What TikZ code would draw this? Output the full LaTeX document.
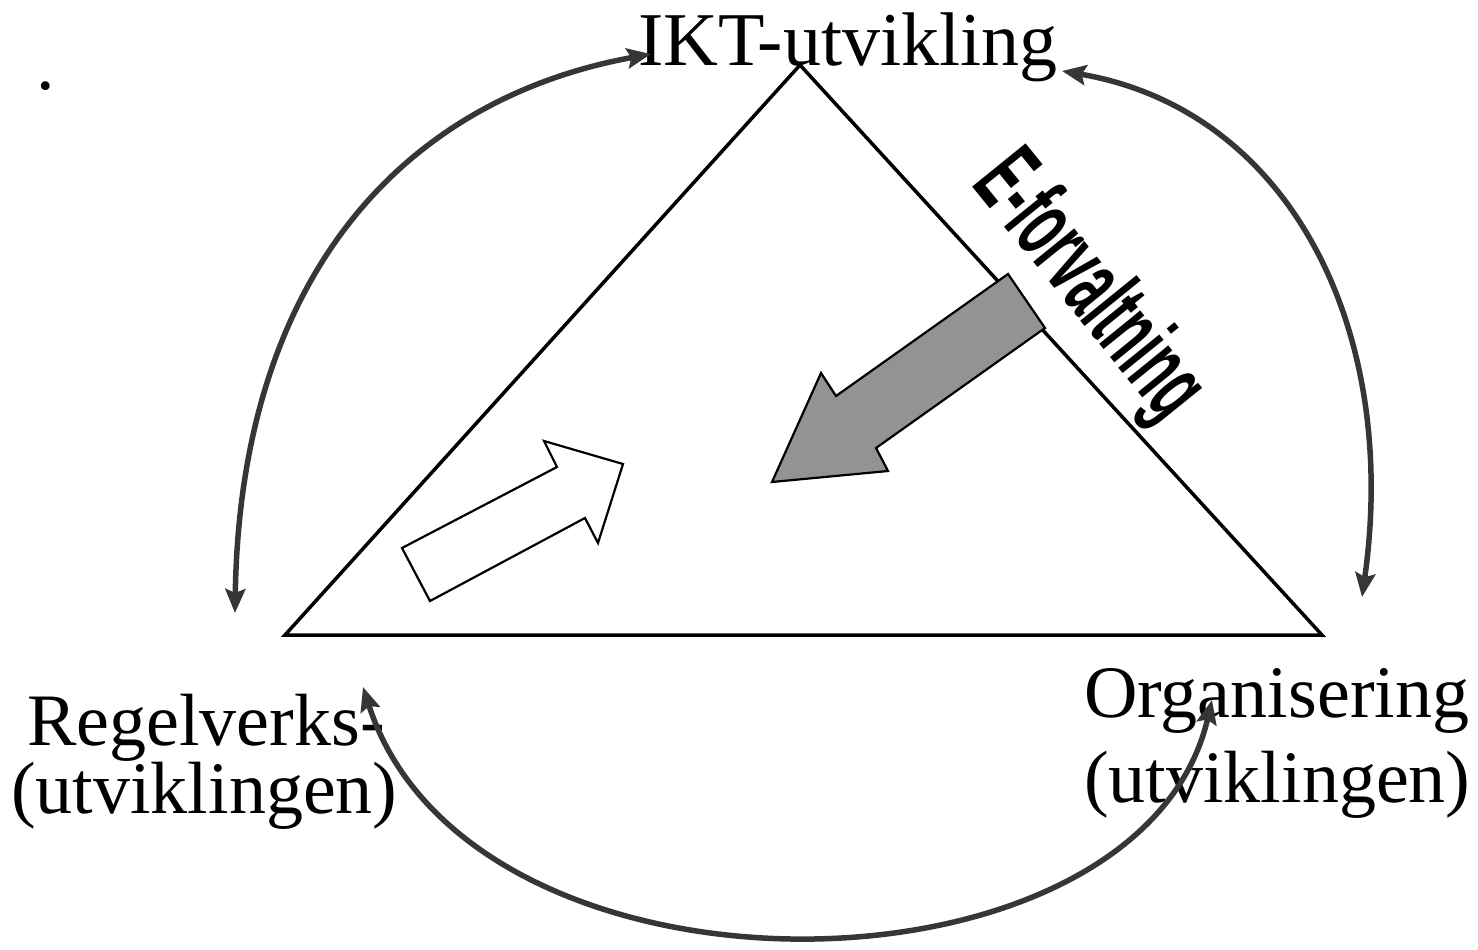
\documentclass[tikz,border=0pt]{standalone}
\usepackage{fontspec}
\setmainfont{Liberation Serif}
\newfontfamily\narrowsans[FakeStretch=0.5]{Liberation Sans}
\usepackage{xcolor}
\usepackage{tikz}
\usetikzlibrary{arrows.meta}
\definecolor{ink}{HTML}{000000}
\definecolor{arc}{HTML}{363636}
\definecolor{shade}{HTML}{939393}
\tikzset{
  tri/.style={draw=ink, line width=3.5pt, line join=miter},
  blockarrow/.style={draw=ink, line width=2.2pt, line join=miter},
  arcline/.style={draw=arc, line width=5.5pt,
    {Stealth[length=24pt, width=20pt, inset=4pt]}-{Stealth[length=24pt, width=20pt, inset=4pt]}},
  lbl/.style={text=ink, font=\fontsize{74}{88}\selectfont, inner sep=0pt, anchor=base west},
  elbl/.style={text=ink, font=\narrowsans\bfseries\fontsize{100}{115}\selectfont, inner sep=0pt, anchor=base west}
}

\begin{document}
\begin{tikzpicture}[x=1pt, y=-1pt]
  \useasboundingbox (0,0) rectangle (1478,950);

  \coordinate (T) at (800,65);
  \coordinate (L) at (285,635);
  \coordinate (R) at (1322,635);
  \draw[tri] (T) -- (L) -- (R) -- cycle;

  % block arrows
  \draw[blockarrow, fill=white] (402,548) -- (557,467) -- (544,441) -- (623,464)
    -- (598,543) -- (585,518) -- (430,601) -- cycle;
  \draw[blockarrow, fill=shade] (1008,274) -- (1045,328) -- (876,448) -- (888,471)
    -- (772,482) -- (821,373) -- (836,396) -- cycle;

  \node[elbl, rotate=-51] (eforv) at (970,184) {E-forvaltning};

  \node[lbl] (dot) at (36,89) {.};
  \node[lbl, font=\fontsize{76}{90}\selectfont] (ikt) at (638,66) {IKT-utvikling};
  \node[lbl] (regel) at (27,745) {Regelverks-};
  \node[lbl] (regelu) at (11,813) {(utviklingen)};
  \node[lbl] (org) at (1084,717) {Organisering};
  \node[lbl] (orgu) at (1084,802) {(utviklingen)};

  \coordinate (ikta) at (651,54);
  \coordinate (iktb) at (1062,71);
  \coordinate (regela) at (235,613);
  \coordinate (regelb) at (363,687);
  \coordinate (orga) at (1362,597);
  \coordinate (orgb) at (1212,700);

  \draw[arcline] (regela) .. controls (240,280) and (400,100) .. (ikta);
  \draw[arcline] (iktb) .. controls (1290,110) and (1400,330) .. (orga);
  \draw[arcline] (orgb) .. controls (1140,1010) and (470,1020) .. (regelb);
\end{tikzpicture}
\end{document}
